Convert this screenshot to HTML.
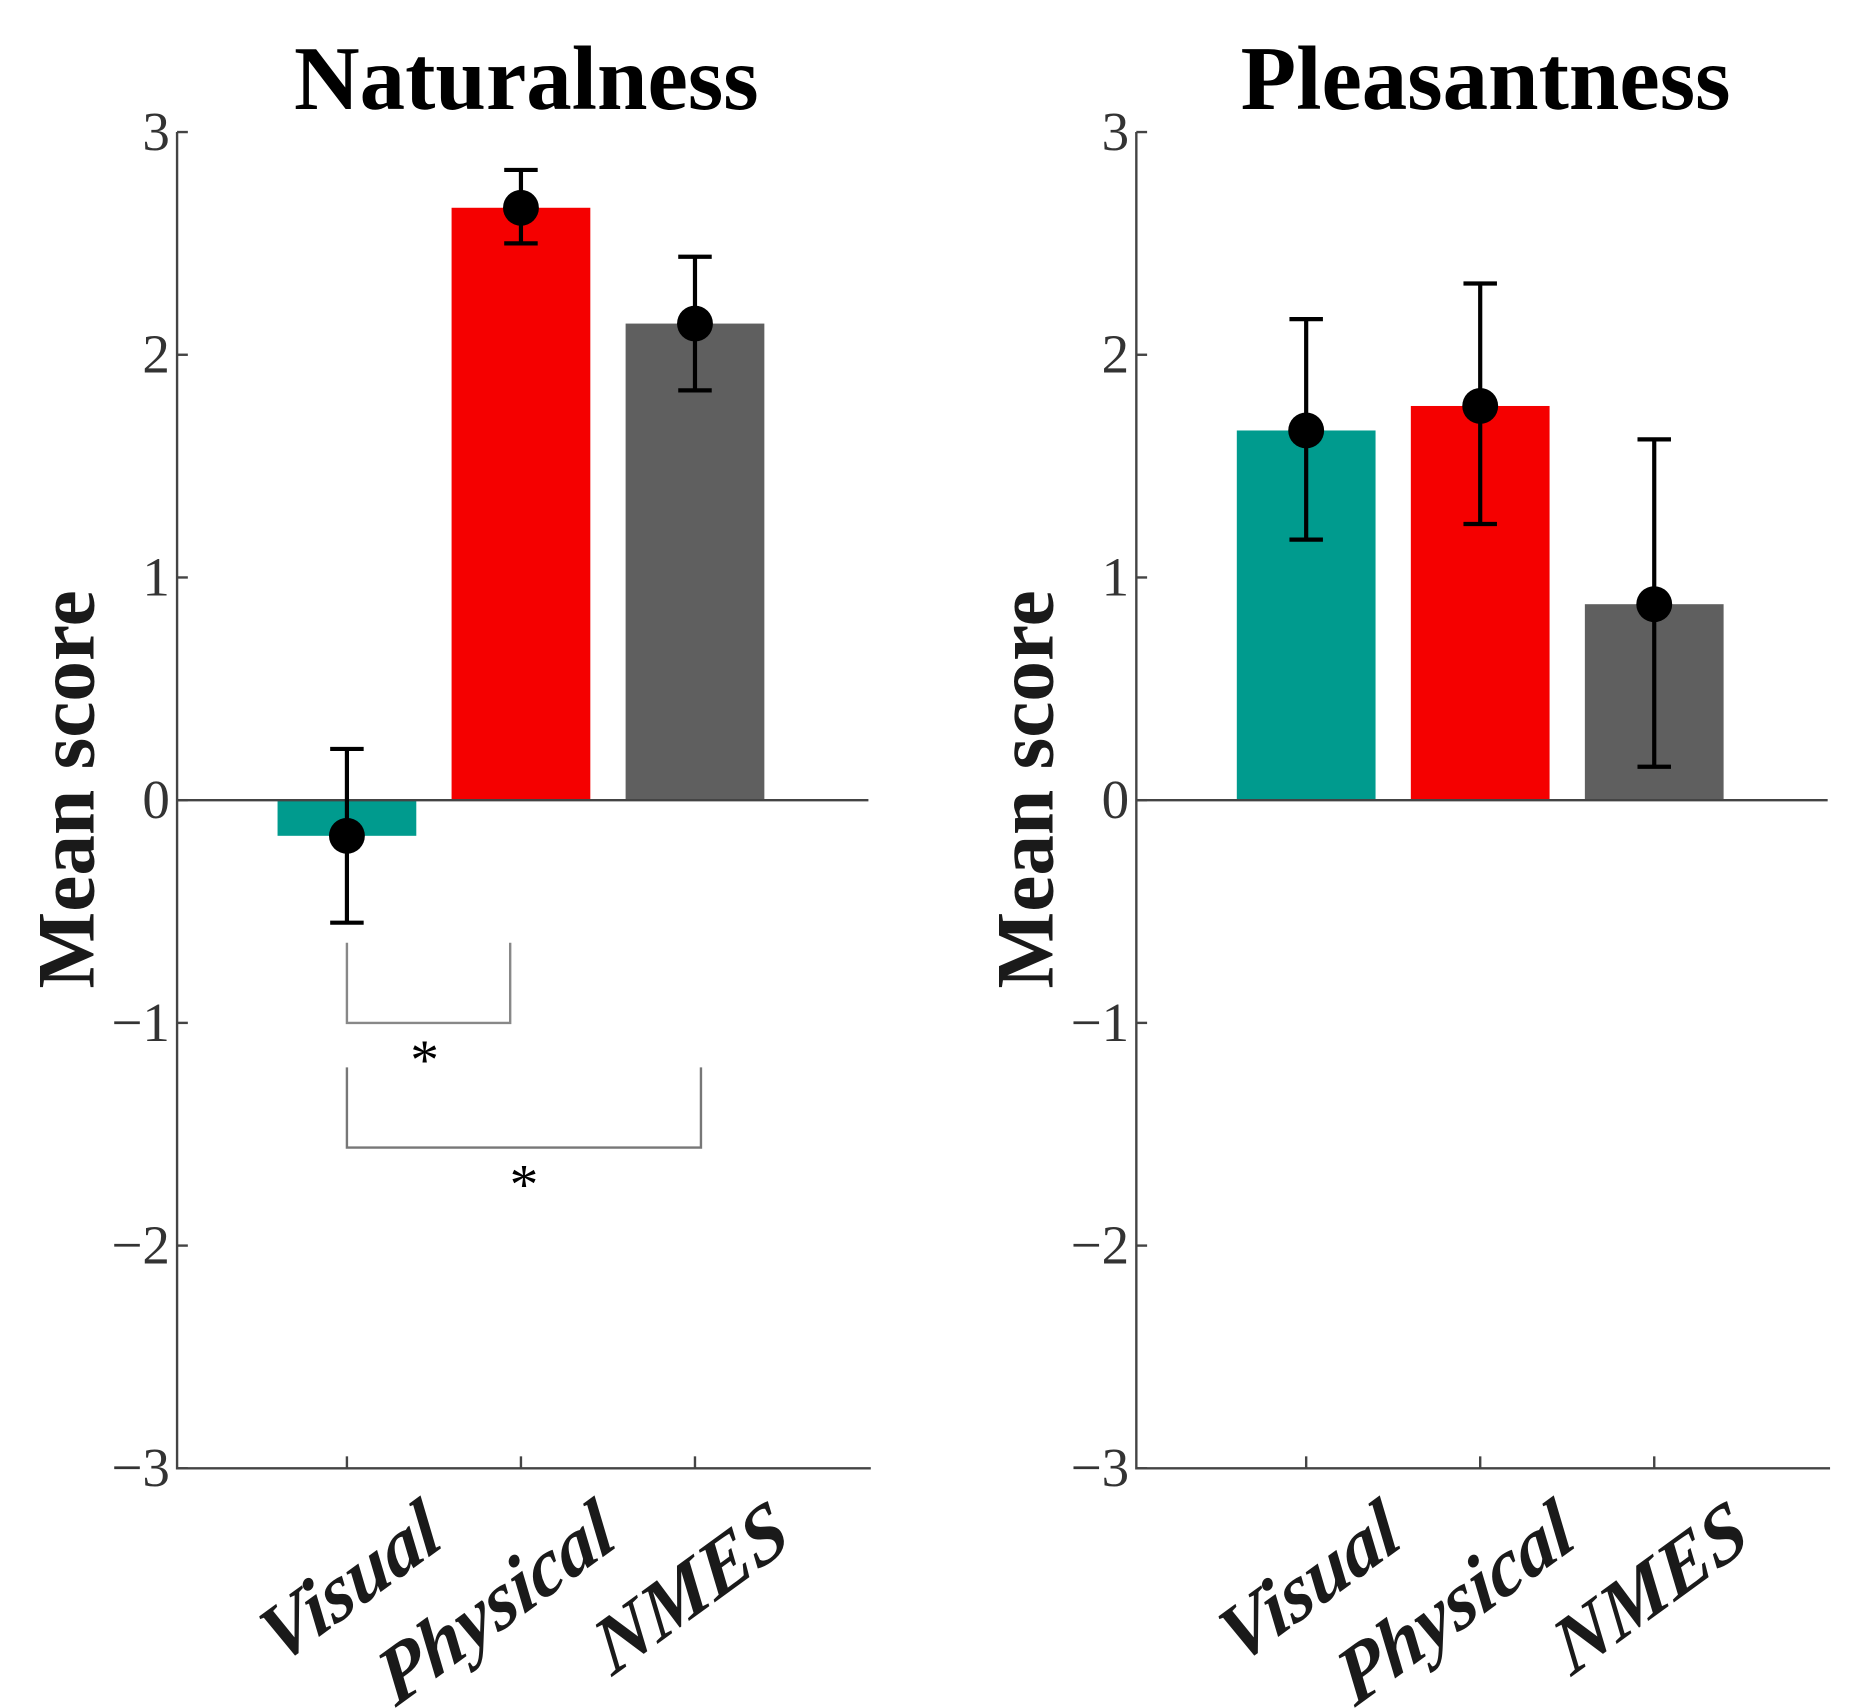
<!DOCTYPE html>
<html><head><meta charset="utf-8"><style>html,body{margin:0;padding:0;background:#fff}svg{display:block}</style></head>
<body>
<svg id="chart" width="1866" height="1708" viewBox="0 0 1560 1428" xmlns="http://www.w3.org/2000/svg" font-family="'Liberation Serif', serif"></svg>
<script>
const categories = ["Visual", "Physical", "NMES"];
const colors = ["#009b8e", "#f50000", "#5f5f5f"];
const natMeans = [-0.16, 2.66, 2.14];
const natLow = [-0.55, 2.50, 1.84];
const natHigh = [0.23, 2.83, 2.44];
const pleMeans = [1.66, 1.77, 0.88];
const pleLow = [1.17, 1.24, 0.15];
const pleHigh = [2.16, 2.32, 1.62];
const yTicks = [3, 2, 1, 0, -1, -2, -3];
const yTickLabels = ["3", "2", "1", "0", "\u22121", "\u22122", "\u22123"];

const svg = document.getElementById('chart');
const NS = 'http://www.w3.org/2000/svg';
function mk(tag, attrs, parent) {
  const e = document.createElementNS(NS, tag);
  for (const k in attrs) e.setAttribute(k, attrs[k]);
  (parent || svg).appendChild(e);
  return e;
}
function panel(opts) {
  const g = mk('g', {});
  
  
  const y = v => 669 - v * 186.2;
  const x = i => opts.x0 + 142 + i * 145.5;
  const bw = 116;
  const t = mk('text', {x: opts.x0 + 292, y: 91, 'text-anchor': 'middle', 'font-size': 76, 'font-weight': 'bold', fill: '#000'}, g);
  t.textContent = opts.title;
  
  
  const yl = mk('text', {x: 0, y: 0, transform: `translate(${opts.x0 - 70},660) rotate(-90)`, 'text-anchor': 'middle', 'font-size': 68, 'font-weight': 'bold', fill: '#1a1a1a'}, g);
  yl.textContent = 'Mean score';
  
  
  for (let i = 0; i < 3; i++) {
    const v = opts.means[i];
    const r = mk('rect', {x: x(i) - bw / 2, y: Math.min(y(v), y(0)), width: bw, height: Math.abs(y(v) - y(0)), fill: colors[i]}, g);
    
    
  }
  const ax = mk('path', {d: `M${opts.x0} ${y(3)} V${y(-3)} H${opts.x0 + 580} M${opts.x0} ${y(0)} H${opts.x0 + 578}`, stroke: '#444', 'stroke-width': 2, fill: 'none'}, g);
  
  
  for (let k = 0; k < yTicks.length; k++) {
    const yy = y(yTicks[k]);
    mk('line', {x1: opts.x0, x2: opts.x0 + 9, y1: yy, y2: yy, stroke: '#444', 'stroke-width': 2}, g);
    const tl = mk('text', {x: opts.x0 - 6, y: yy + 15, 'text-anchor': 'end', 'font-size': 46, fill: '#333'}, g);
    tl.textContent = yTickLabels[k];
    
    
  }
  for (let i = 0; i < 3; i++) {
    mk('line', {x1: x(i), x2: x(i), y1: y(-3), y2: y(-3) - 10, stroke: '#444', 'stroke-width': 2}, g);
    const xl = mk('text', {x: 0, y: 0, transform: `translate(${x(i) + 82},1292) rotate(-36) skewX(-10)`, 'text-anchor': 'end', 'font-size': 66, 'font-weight': 'bold', 'font-style': 'italic', fill: '#1a1a1a'}, g);
    xl.textContent = categories[i];
    
    
  }
  for (let i = 0; i < 3; i++) {
    const eb = mk('path', {d: `M${x(i)} ${y(opts.low[i])} V${y(opts.high[i])} M${x(i) - 14} ${y(opts.low[i])} H${x(i) + 14} M${x(i) - 14} ${y(opts.high[i])} H${x(i) + 14}`, stroke: '#000', 'stroke-width': 3.5, fill: 'none'}, g);
    
    
    const c = mk('circle', {cx: x(i), cy: y(opts.means[i]), r: 15, fill: '#000'}, g);
    
    
  }
  return {g, x, y};
}
const L = panel({name: 'naturalness-panel', title: 'Naturalness', x0: 148, means: natMeans, low: natLow, high: natHigh});
panel({name: 'pleasantness-panel', title: 'Pleasantness', x0: 950, means: pleMeans, low: pleLow, high: pleHigh});

const b1 = mk('path', {d: `M${L.x(0)} ${L.y(-0.64)} V${L.y(-1.0)} H${L.x(1) - 9} V${L.y(-0.64)}`, stroke: '#888', 'stroke-width': 2, fill: 'none'}, L.g);


const b2 = mk('path', {d: `M${L.x(0)} ${L.y(-1.2)} V${L.y(-1.56)} H${L.x(2) + 5} V${L.y(-1.2)}`, stroke: '#777', 'stroke-width': 2, fill: 'none'}, L.g);


const s1 = mk('text', {x: 355, y: 902, 'text-anchor': 'middle', 'font-size': 48, fill: '#000'}, L.g);
s1.textContent = '*';


const s2 = mk('text', {x: 438, y: 1006, 'text-anchor': 'middle', 'font-size': 48, fill: '#000'}, L.g);
s2.textContent = '*';


</script>
</body></html>
